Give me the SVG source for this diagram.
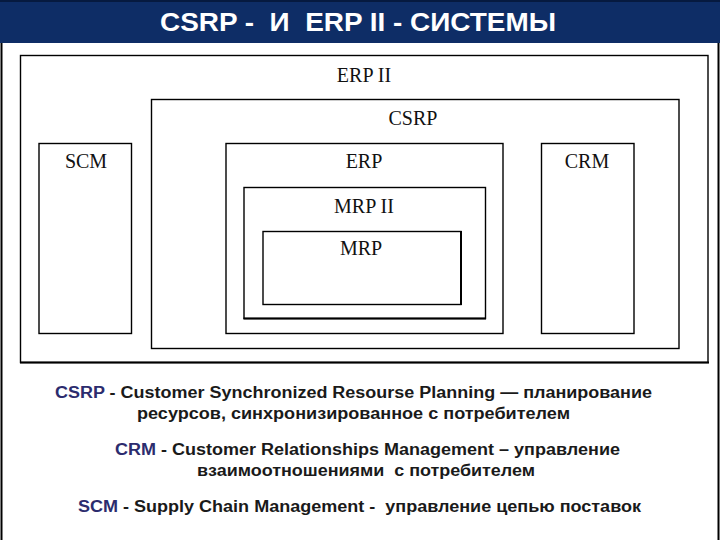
<svg xmlns="http://www.w3.org/2000/svg" width="720" height="540" viewBox="0 0 720 540">
<style>
.box{fill:none;stroke:#000;stroke-width:1.4}
.lbl{font-family:"Liberation Serif","Times New Roman",serif;font-size:20px;fill:#111;text-anchor:middle}
.txt{font-family:"Liberation Sans",Arial,sans-serif;font-size:16px;font-weight:bold;fill:#1a1a1a;white-space:pre}
.abbr{fill:#2c2c6e}
</style>
<rect x="0" y="0" width="720" height="540" fill="#fff"/>
<g id="header">
<rect x="0" y="0" width="720" height="43" fill="#0e2d66"/>
<rect x="0" y="0" width="720" height="2" fill="#061a40"/>
<text x="358" y="31" font-family="Liberation Sans,Arial,sans-serif" font-size="26" font-weight="bold" fill="#fff" text-anchor="middle" textLength="396" lengthAdjust="spacingAndGlyphs" style="white-space:pre">CSRP -  И  ERP II - СИСТЕМЫ</text>
</g>
<g id="frame">
<line x1="1.5" y1="43" x2="1.5" y2="540" stroke="#000" stroke-width="2"/>
<line x1="718.5" y1="43" x2="718.5" y2="540" stroke="#000" stroke-width="2"/>
</g>
<g id="erp2">
<rect class="box" x="20.5" y="55.5" width="687.5" height="307"/>
<line x1="20" y1="362.5" x2="709" y2="362.5" stroke="#000" stroke-width="2"/>
<text class="lbl" x="364" y="82">ERP II</text>
</g>
<g id="csrp">
<rect class="box" x="151.5" y="99.5" width="527.5" height="249"/>
<text class="lbl" x="413" y="125">CSRP</text>
</g>
<g id="scm">
<rect class="box" x="39" y="143.5" width="92.5" height="190"/>
<text class="lbl" x="86" y="168">SCM</text>
</g>
<g id="erp">
<rect class="box" x="226" y="143.5" width="277" height="190"/>
<text class="lbl" x="364" y="168">ERP</text>
</g>
<g id="crm">
<rect class="box" x="541.5" y="143.5" width="92.5" height="190"/>
<text class="lbl" x="587" y="168">CRM</text>
</g>
<g id="mrp2">
<rect class="box" x="244" y="187.5" width="241.5" height="131"/>
<line x1="243.5" y1="318.5" x2="486" y2="318.5" stroke="#000" stroke-width="2"/>
<text class="lbl" x="364" y="213">MRP II</text>
</g>
<g id="mrp">
<rect class="box" x="263" y="231.5" width="198" height="73"/>
<line x1="461" y1="231" x2="461" y2="305" stroke="#000" stroke-width="2"/>
<text class="lbl" x="361" y="255">MRP</text>
</g>
<g id="connectors"/>
<g id="legend">
<text class="txt" x="55" y="398" textLength="597" lengthAdjust="spacingAndGlyphs"><tspan class="abbr">CSRP</tspan> - Customer Synchronized Resourse Planning — планирование</text>
<text class="txt" x="137" y="419" textLength="433" lengthAdjust="spacingAndGlyphs">ресурсов, синхронизированное с потребителем</text>
<text class="txt" x="115" y="455" textLength="505" lengthAdjust="spacingAndGlyphs"><tspan class="abbr">CRM</tspan> - Customer Relationships Management – управление</text>
<text class="txt" x="197" y="476" textLength="338" lengthAdjust="spacingAndGlyphs">взаимоотношениями  с потребителем</text>
<text class="txt" x="78" y="512" textLength="563" lengthAdjust="spacingAndGlyphs"><tspan class="abbr">SCM</tspan> - Supply Chain Management -  управление цепью поставок</text>
</g>
</svg>
